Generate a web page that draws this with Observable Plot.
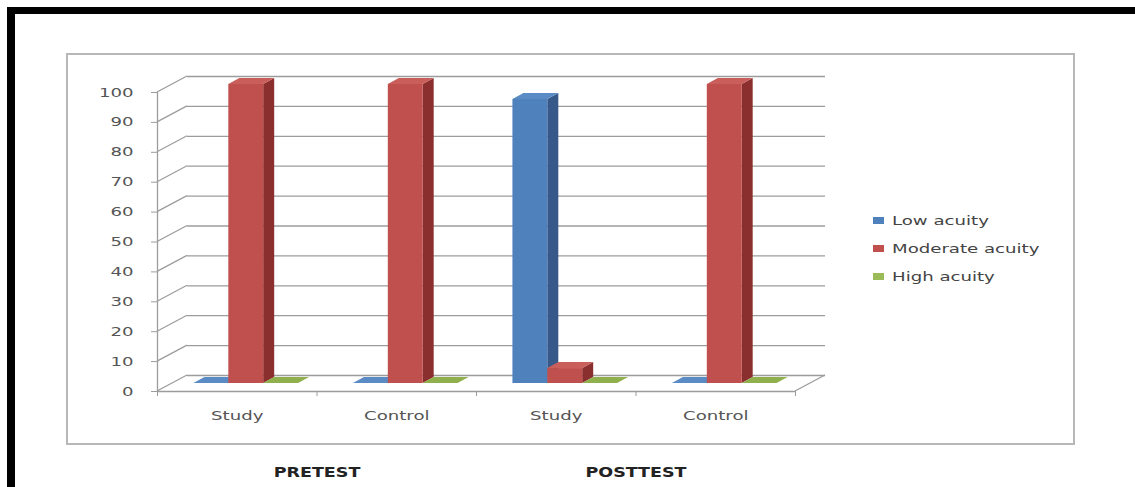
<!DOCTYPE html>
<html>
<head>
<meta charset="utf-8">
<script src="https://cdn.jsdelivr.net/npm/d3@7"></script>
<script src="https://cdn.jsdelivr.net/npm/@observablehq/plot@0.6"></script>
<style>
  html, body { margin: 0; padding: 0; background: #fff; }
  body { width: 1135px; height: 487px; position: relative; overflow: hidden; font-family: "DejaVu Sans", sans-serif; }
  #frameTop { position: absolute; left: 7px; top: 7px; width: 1128px; height: 7px; background: #000; }
  #frameLeft { position: absolute; left: 7px; top: 7px; width: 8px; height: 480px; background: #000; }
  #box { position: absolute; left: 66px; top: 53px; width: 1005px; height: 388px; border: 2px solid #b8b8b8; }
  #chart { position: absolute; left: 0; top: 0; }
  #chart svg { display: block; }
  #legend { position: absolute; left: 873px; top: 206px; }
  .item { height: 28px; display: flex; align-items: center; }
  .sw { width: 11px; height: 7px; margin-right: 8px; }
  .lab { font-size: 12.5px; color: #444; display: inline-block; transform: scaleX(1.45); transform-origin: left center; white-space: nowrap; }
</style>
</head>
<body>
<div id="frameTop"></div>
<div id="frameLeft"></div>
<div id="box"></div>
<div id="chart"></div>
<div id="legend"></div>
<script>
// ---- data ----
const categories = ["Study", "Control", "Study", "Control"];
const phases = ["PRETEST", "PRETEST", "POSTTEST", "POSTTEST"];
const series = ["Low acuity", "Moderate acuity", "High acuity"];
const lowAcuity = [0, 0, 95, 0];
const moderateAcuity = [100, 100, 5, 100];
const highAcuity = [0, 0, 0, 0];
const yTicks = [0, 10, 20, 30, 40, 50, 60, 70, 80, 90, 100];

// ---- styles ----
const frontColors = ["#4f81bd", "#c0504d", "#9bbb59"];
const topColors = ["#5b8bc4", "#c95e5a", "#8fb04c"];
const sideColors = ["#36598a", "#8a2f2d", "#6f8a3a"];
const FRONT = [9, -8];   // bar front plane offset (px)
const DEPTH = [11, -6];  // bar depth (px)
const WALL = [30, -16];  // chart depth (px)
const gridColor = "#9c9c9c";
const textColor = "#555";

// ---- table ----
const seriesValues = [lowAcuity, moderateAcuity, highAcuity];
const sub = d3.scaleBand().domain(series).range([0, 1]).paddingInner(0).paddingOuter(0.786);
const rows = [];
categories.forEach((c, i) => series.forEach((s, j) => rows.push({
  cat: c, phase: phases[i], series: s, j,
  value: seriesValues[j][i],
  x1: i + sub(s), x2: i + sub(s) + sub.bandwidth()
})));
const phaseRows = Array.from(new Set(phases), p => ({
  phase: p,
  x: d3.mean(phases.map((q, i) => q === p ? i + 0.5 : null).filter(v => v != null))
}));

// ---- custom marks using the plot scales ----
function walls(index, {x, y}) {
  const g = d3.create("svg:g").attr("stroke", gridColor).attr("stroke-width", 1.3);
  const x0 = x(0), xN = x(categories.length);
  for (const t of yTicks) {
    g.append("line").attr("x1", x0).attr("y1", y(t)).attr("x2", x0 + WALL[0]).attr("y2", y(t) + WALL[1]);
  }
  g.append("line").attr("x1", xN).attr("y1", y(0)).attr("x2", xN + WALL[0]).attr("y2", y(0) + WALL[1]);
  return g.node();
}
function barFaces(index, {x, y}) {
  const g = d3.create("svg:g");
  for (const r of rows) {
    const xl = x(r.x1) + FRONT[0], xr = x(r.x2) + FRONT[0];
    const yt = y(r.value) + FRONT[1], yb = y(0) + FRONT[1];
    if (r.value > 0) {
      g.append("path")
        .attr("d", `M${xr},${yt}L${xr + DEPTH[0]},${yt + DEPTH[1]}L${xr + DEPTH[0]},${yb + DEPTH[1]}L${xr},${yb}Z`)
        .attr("fill", sideColors[r.j]);
    }
    g.append("path")
      .attr("d", `M${xl},${yt}L${xl + DEPTH[0]},${yt + DEPTH[1]}L${xr + DEPTH[0]},${yt + DEPTH[1]}L${xr},${yt}Z`)
      .attr("fill", topColors[r.j]);
  }
  return g.node();
}

const plot = Plot.plot({
  width: 1135, height: 487,
  marginLeft: 157, marginRight: 340, marginTop: 92, marginBottom: 96,
  x: {type: "linear", domain: [0, categories.length]},
  y: {domain: [0, 100]},
  style: {background: "transparent", fontFamily: "DejaVu Sans", fontSize: "12.5px", overflow: "visible"},
  marks: [
    Plot.ruleY(yTicks, {dx: WALL[0], dy: WALL[1], stroke: gridColor, strokeWidth: 1.3}),
    walls,
    Plot.ruleX([0], {stroke: gridColor, strokeWidth: 1.3}),
    Plot.ruleY([0], {stroke: gridColor, strokeWidth: 1.3}),
    barFaces,
    Plot.rectY(rows, {x1: "x1", x2: "x2", y1: 0, y2: "value", fill: d => frontColors[d.j], dx: FRONT[0], dy: FRONT[1]}),
    Plot.axisY(yTicks, {tickSize: 6, tickPadding: 18, stroke: gridColor, fill: textColor, label: null}),
    Plot.axisX(d3.range(categories.length + 1), {tickSize: 5, tickFormat: () => "", stroke: gridColor, label: null}),
    Plot.axisX(categories.map((c, i) => i + 0.5), {tickSize: 0, tickPadding: 20, tickFormat: v => categories[Math.floor(v)], fill: textColor, label: null}),
    Plot.text(phaseRows, {x: "x", y: 0, text: "phase", dy: 81, fontWeight: "bold", fontSize: 14, fill: "#222"})
  ]
});
document.getElementById("chart").appendChild(plot);

// horizontal stretch of texts (reference is horizontally stretched)
plot.querySelectorAll("text").forEach(t => {
  const w = t.getComputedTextLength();
  if (!w) return;
  const k = t.closest('[aria-label="text"]') ? 1.25 : 1.45;
  t.setAttribute("textLength", w * k);
  t.setAttribute("lengthAdjust", "spacingAndGlyphs");
});

// legend
const legend = d3.select("#legend");
series.forEach((s, j) => {
  const it = legend.append("div").attr("class", "item");
  it.append("div").attr("class", "sw").style("background", frontColors[j]);
  it.append("span").attr("class", "lab").text(s);
});
</script>
</body>
</html>
